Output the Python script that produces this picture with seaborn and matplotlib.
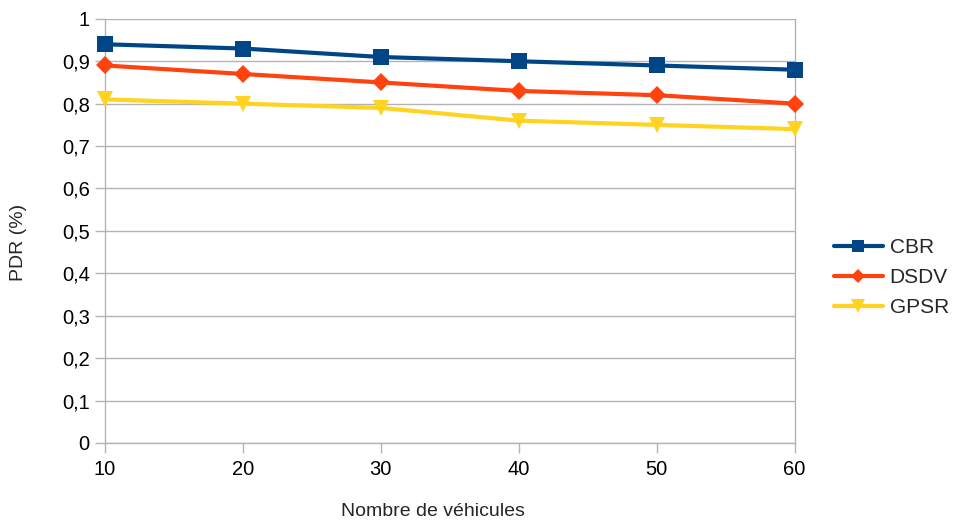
import pandas as pd
import matplotlib
matplotlib.use("Agg")
import matplotlib.pyplot as plt
import seaborn as sns

# data
vehicles = [10, 20, 30, 40, 50, 60]
cbr = [0.94, 0.93, 0.91, 0.90, 0.89, 0.88]
dsdv = [0.89, 0.87, 0.85, 0.83, 0.82, 0.80]
gpsr = [0.81, 0.80, 0.79, 0.76, 0.75, 0.74]
protocols = ["CBR", "DSDV", "GPSR"]
y_ticks = [i / 10 for i in range(11)]

df = pd.DataFrame({"vehicles": vehicles, "CBR": cbr, "DSDV": dsdv, "GPSR": gpsr})
df = df.melt(id_vars="vehicles", var_name="protocol", value_name="pdr")

sns.set_style("white")
plt.rcParams["font.family"] = ["Liberation Sans", "DejaVu Sans"]

fig = plt.figure(figsize=(9.54, 5.23), dpi=100)
ax = fig.add_axes([0.110, 0.153, 0.723, 0.811])

palette = {"CBR": "#004586", "DSDV": "#ff420e", "GPSR": "#ffd320"}
markers = {"CBR": "s", "DSDV": "D", "GPSR": "v"}
sizes = {"CBR": 11, "DSDV": 9, "GPSR": 12}

for p in protocols:
    sns.lineplot(data=df[df.protocol == p], x="vehicles", y="pdr", ax=ax,
                 color=palette[p], marker=markers[p], markersize=sizes[p],
                 markeredgewidth=0, linewidth=3, label=p, zorder=3, clip_on=False)

ax.set_xlim(10, 60)
ax.set_ylim(0, 1)
ax.set_xticks(vehicles)
ax.set_yticks(y_ticks)
ax.set_yticklabels([f"{v:g}".replace(".", ",") for v in y_ticks])
ax.grid(axis="y", color="#b3b3b3", linewidth=1)
ax.grid(axis="x", visible=False)
for side in ["left", "right", "bottom"]:
    ax.spines[side].set_color("#b3b3b3")
    ax.spines[side].set_linewidth(1)
ax.spines["top"].set_visible(False)
ax.tick_params(axis="both", which="major", length=7, width=1, color="#b3b3b3",
               labelsize=14.5, labelcolor="#000000", direction="out",
               bottom=True, left=True)
ax.tick_params(axis="x", pad=5)
ax.tick_params(axis="y", pad=4)
ax.set_xlabel("Nombre de véhicules", fontsize=14)
ax.set_ylabel("PDR (%)", fontsize=14)
ax.xaxis.set_label_coords(0.475, -0.141)
ax.yaxis.set_label_coords(-0.113, 0.472)

ax.legend(loc="center left", bbox_to_anchor=(1.0565, 0.39), frameon=False,
          fontsize=15, handlelength=2.35, labelspacing=0.53, handletextpad=0.34,
          borderpad=0, borderaxespad=0, markerscale=0.8)

fig.savefig("out.png", dpi=100)
